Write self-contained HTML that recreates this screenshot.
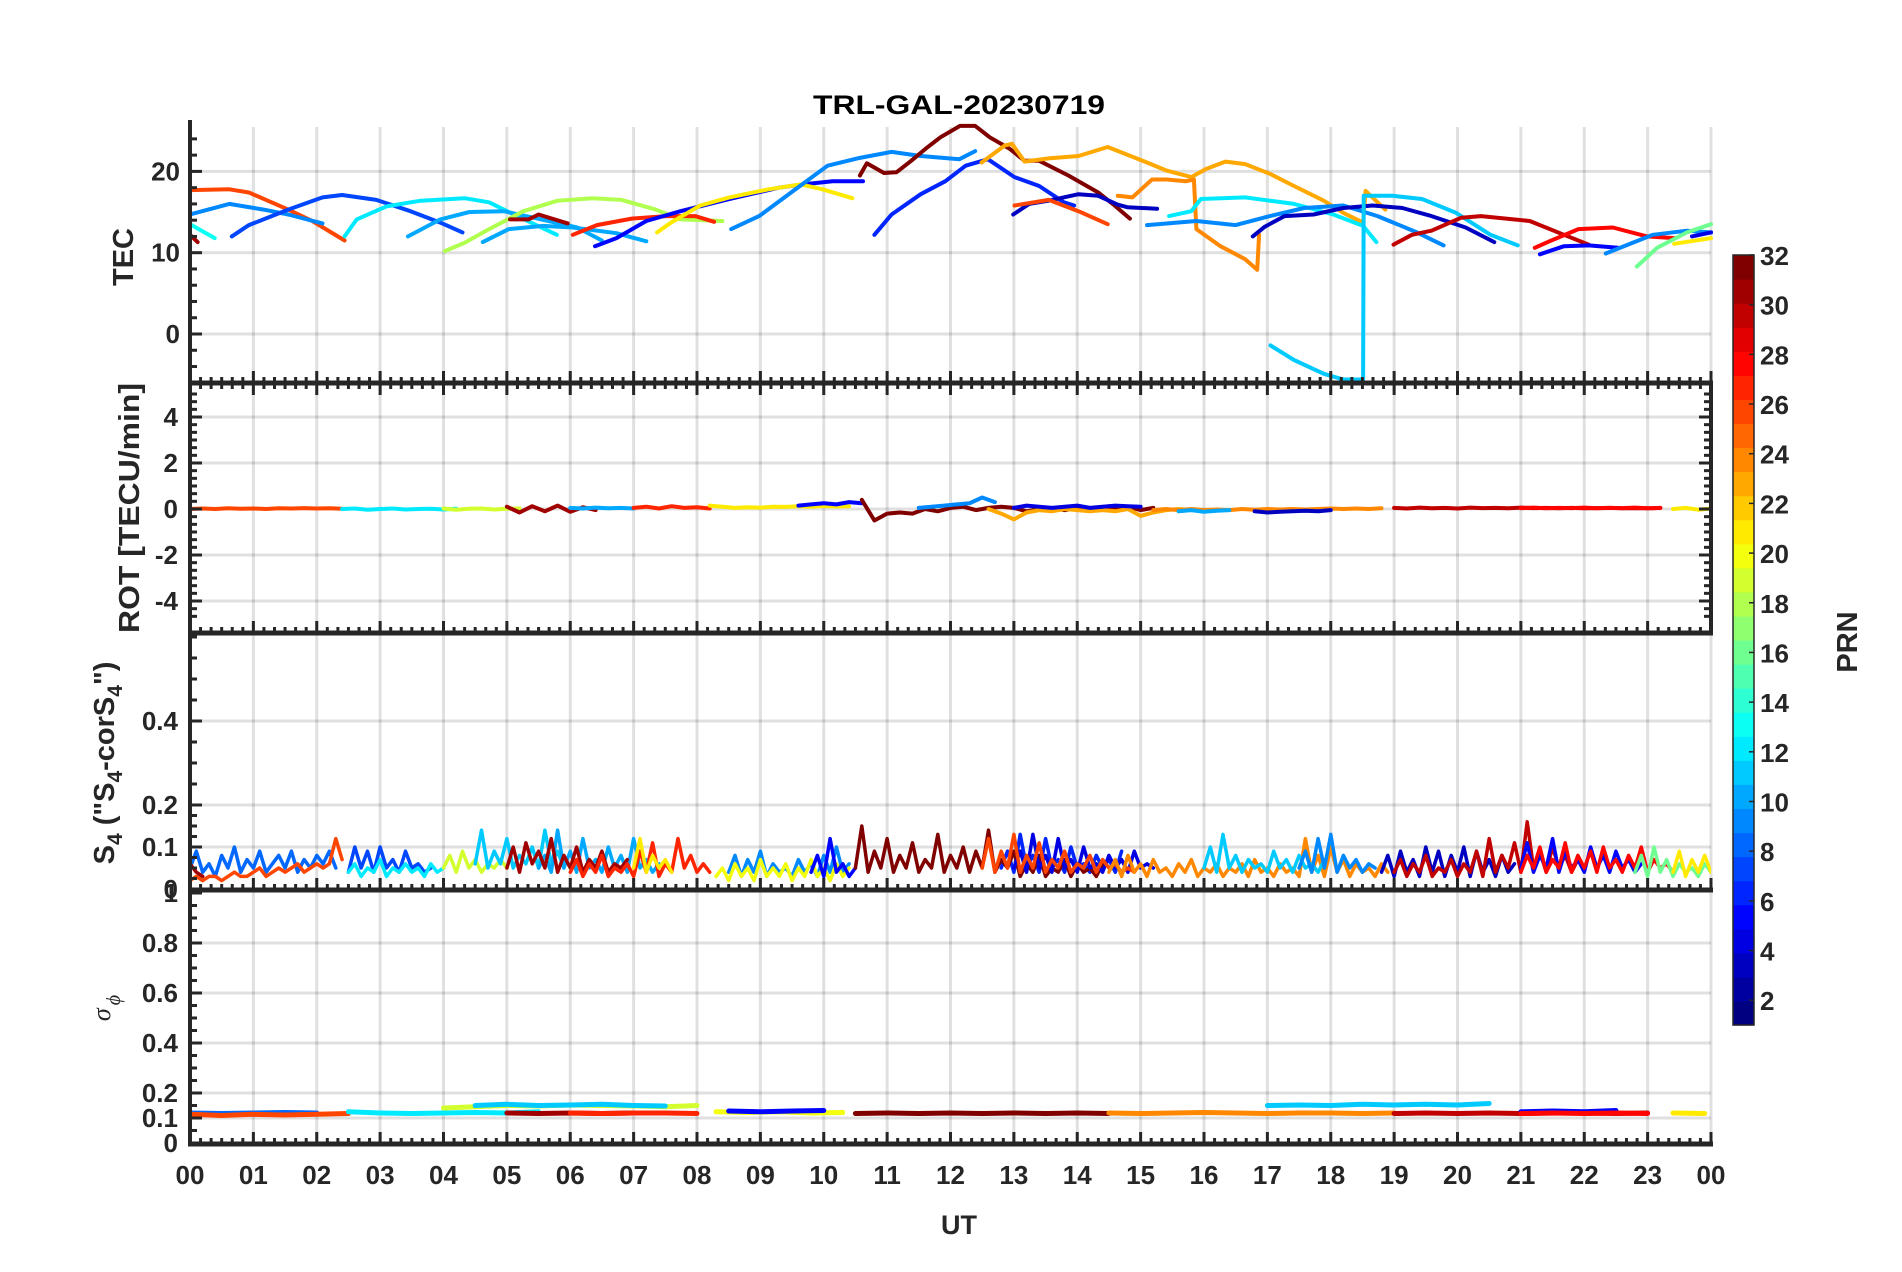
<!DOCTYPE html>
<html><head><meta charset="utf-8"><title>TRL-GAL-20230719</title>
<style>
html,body{margin:0;padding:0;background:#fff;}
svg{display:block;font-family:"Liberation Sans",Arial,sans-serif;}
.tk{font-weight:bold;font-size:26px;fill:#262626;}
</style></head>
<body>
<svg id="chart" xmlns="http://www.w3.org/2000/svg" width="1902" height="1272" viewBox="0 0 1902 1272">
<rect x="0" y="0" width="1902" height="1272" fill="#fff"/>
<defs>
<clipPath id="cTEC"><rect x="190" y="120" width="1525" height="264"/></clipPath>
<clipPath id="cROT"><rect x="190" y="383" width="1521" height="250"/></clipPath>
<clipPath id="cS4"><rect x="190" y="635" width="1521" height="255"/></clipPath>
<clipPath id="cSIG"><rect x="190" y="890" width="1521" height="254"/></clipPath>
</defs>
<g id="grid"></g>
<g id="tecG" clip-path="url(#cTEC)"></g>
<g id="rotG" clip-path="url(#cROT)"></g>
<g id="s4G" clip-path="url(#cS4)"></g>
<g id="sigG" clip-path="url(#cSIG)"></g>
<g id="axes"></g>
<g id="cbar"></g>
<text x="959" y="114" text-anchor="middle" font-weight="bold" font-size="27" fill="#000" textLength="292" lengthAdjust="spacingAndGlyphs">TRL-GAL-20230719</text>
<text transform="translate(133,257) rotate(-90)" text-anchor="middle" font-weight="bold" font-size="29" fill="#262626">TEC</text>
<text transform="translate(139,508) rotate(-90)" text-anchor="middle" font-weight="bold" font-size="29" fill="#262626" textLength="250" lengthAdjust="spacingAndGlyphs">ROT [TECU/min]</text>
<text transform="translate(114,763) rotate(-90)" text-anchor="middle" font-weight="bold" font-size="29" fill="#262626">S<tspan font-size="21" dy="8">4</tspan><tspan dy="-8"> ("S</tspan><tspan font-size="21" dy="8">4</tspan><tspan dy="-8">-corS</tspan><tspan font-size="21" dy="8">4</tspan><tspan dy="-8">")</tspan></text>
<text transform="translate(110,1008) rotate(-90)" text-anchor="middle" font-style="italic" font-family="Liberation Serif, serif" font-size="26" fill="#262626">σ<tspan font-size="20" dy="10" dx="3">ϕ</tspan></text>
<text x="959" y="1234" text-anchor="middle" font-weight="bold" font-size="27" fill="#262626">UT</text>
<text transform="translate(1857,642) rotate(-90)" text-anchor="middle" font-weight="bold" font-size="29" fill="#262626">PRN</text>
</svg>
<script>
// ---------- data ----------
var tecPrn = [26,9,13,31,7,12,10,18,10,31,27,5,21,9,32,6,3,23,24,26,12,9,3,11,30,28,5,9,16,21,4];
var tecHours = [
[0,0.62,0.93,1.55,1.93,2.44],
[0,0.62,1.16,1.55,2.09],
[0,0.39],
[0,0.12],
[0.66,0.93,1.55,2.09,2.4,2.94,3.48,3.95,4.3],
[2.44,2.63,3.1,3.64,4.33,4.72,5.11,5.79],
[3.44,3.95,4.41,4.95,5.42,6.11,6.5],
[4.02,4.33,4.72,5.26,5.8,6.35,6.81,7.35,7.74,8.4],
[4.62,5.03,5.57,6.04,6.73,7.2],
[5.05,5.34,5.5,5.96],
[6.04,6.42,6.97,7.51,7.97,8.27],
[6.39,6.73,7.2,7.74,8.51,9.29,9.67,10.14,10.62],
[7.37,7.59,8.05,8.51,9.13,9.64,9.98,10.45],
[8.54,8.98,9.52,10.06,10.53,11.07,11.53,12.14,12.39],
[10.57,10.68,10.95,11.15,11.38,11.61,11.84,12.15,12.39,12.62,12.93,13.17,13.4,13.86,14.33,14.56,14.83],
[10.8,11.07,11.53,11.92,12.24,12.59,13.01,13.4,13.79,13.95],
[12.99,13.24,13.55,14.02,14.33,14.64,14.79,15.26],
[12.49,12.86,12.97,13.17,13.55,14.02,14.48,15.1,15.41,15.8,16.03,16.34,16.65,17.04,17.42,17.89,18.2,18.51,18.55,18.86],
[14.64,14.87,15.18,15.41,15.72,15.84,15.88,16.26,16.65,16.84,16.87],
[13.01,13.55,14.02,14.48],
[15.45,15.8,15.95,16.65,17.42,18.04,18.51,18.72],
[15.1,15.88,16.5,17.04,17.58,18.2,18.74,19.36,19.78],
[16.77,16.96,17.27,17.73,18.2,18.66,19.13,19.59,20.13,20.58],
[17.05,17.42,17.89,18.2,18.51,18.52,18.97,19.44,19.98,20.52,20.95],
[18.99,19.28,19.59,20.06,20.37,21.14,21.68,22.07],
[21.22,21.45,21.91,22.45,22.99,23.42],
[21.3,21.68,22.07,22.53],
[22.34,22.69,23.08,23.62,24],
[22.83,23.15,23.62,24],
[23.42,24],
[23.7,24]
];
var tecValues = [
[17.7,17.8,17.4,15.3,13.9,11.5],
[14.7,16,15.3,14.7,13.6],
[13.5,11.8],
[12.2,11.3],
[12,13.4,15.3,16.8,17.1,16.5,15.1,13.7,12.5],
[12,14.1,15.7,16.4,16.7,16.2,14.7,12.2],
[12,14.1,15,15.1,14.3,13.1,11.5],
[10.2,11.2,12.9,15.1,16.4,16.7,16.5,15.3,14.1,13.9],
[11.3,12.9,13.3,13.1,12.4,11.4],
[14.1,14.1,14.7,13.6],
[12.2,13.4,14.2,14.5,14.5,13.8],
[10.8,11.8,13.9,15.1,16.6,18,18.4,18.8,18.8],
[12.5,13.7,15.8,16.8,17.8,18.4,17.8,16.7],
[12.9,14.5,17.6,20.7,21.6,22.4,21.9,21.5,22.5],
[19.5,21,19.8,19.9,21.3,22.8,24.2,25.6,25.6,24.2,22.8,21.3,21.3,19.5,17.4,16,14.2],
[12.2,14.7,17.2,18.8,20.7,21.5,19.3,18.2,16.2,15.8],
[14.7,16,16.4,17.2,17.0,15.9,15.6,15.4],
[21.1,23.2,23.4,21.2,21.6,21.9,23,21.1,20.1,19.3,20.3,21.2,20.9,19.7,18.2,16.4,14.9,13.7,17.6,15.3],
[17,16.8,19,19,18.8,19,12.9,10.8,9.2,7.9,12.2],
[15.8,16.5,15.1,13.5],
[14.5,15.1,16.6,16.8,16,14.7,13.3,11.3],
[13.4,13.9,13.4,14.5,15.5,15.8,14.5,12.5,10.9],
[12,13.2,14.5,14.7,15.5,15.8,15.5,14.5,13.1,11.3],
[-1.4,-3.2,-4.9,-5.6,-5.6,17,17,16.6,14.9,12.2,10.9],
[11,12.2,12.7,14.3,14.5,13.9,12.2,11],
[10.6,11.4,12.9,13.1,12,11.8],
[9.8,10.8,10.9,10.6],
[9.9,11,12.2,12.7,12.5],
[8.3,10.6,12.5,13.5],
[11.1,11.8],
[12,12.5]
];

// ROT: step 0.2 h
var rotStep = 0.2;
var rotPrn = [26,12,19,31,10,27,21,5,32,9,23,4,24,10,3,30,28,21];
var rotStart = [0,2.4,4.0,5.0,6.0,7.0,8.2,9.6,10.6,11.5,12.6,13.0,15.2,15.6,16.8,19.0,21.0,23.4];
var rotValues = [
[0,0.02,0,0.03,0.01,0.02,0,0.03,0.02,0.04,0.02,0.03,0.01],
[0,0.02,-0.03,0,0.02,-0.02,0,0.01,-0.02,0.01],
[0.02,-0.03,0.01,0.02,-0.02,0.01,0.02],
[0.1,-0.15,0.12,-0.1,0.15,-0.12,0.08,-0.05],
[0.05,0.02,0.06,0.03,0.05,0.02],
[0.05,0.1,0.02,0.12,0.05,0.08,0.02],
[0.15,0.1,0.05,0.08,0.06,0.1,0.09,0.12,0.1,0.13,0.11,0.12],
[0.15,0.2,0.25,0.2,0.3,0.25],
[0.4,-0.5,-0.2,-0.15,-0.2,0,-0.1,0.05,0.1,-0.05,0.05,0.1,0.05,-0.1,0,0.05,-0.05,0.05,0,0.05,0,0.1,-0.05,0.05],
[0.05,0.1,0.15,0.2,0.25,0.5,0.3],
[0,-0.2,-0.45,-0.15,-0.05,-0.1,0,-0.05,-0.1,-0.05,-0.1,0,-0.3,-0.15,-0.05,0,-0.05],
[0.05,0.15,0.1,0.05,0.1,0.15,0.05,0.1,0.15,0.12,0.1],
[-0.05,0,-0.05,0,-0.05,-0.02,-0.05,0,-0.03,0,-0.02,0,-0.02,0,0.02,0,0.02,0,0.03],
[-0.1,-0.05,-0.12,-0.08,-0.05],
[-0.1,-0.15,-0.12,-0.1,-0.08,-0.1,-0.05],
[0.05,0.02,0.06,0.03,0.05,0.02,0.06,0.04,0.05,0.03,0.06,0.04,0.05,0.03,0.05,0.03,0.04,0.05,0.03,0.04,0.03,0.05],
[0.04,0.06,0.03,0.05,0.04,0.06,0.03,0.05,0.04,0.06,0.03,0.05],
[0,0.05,-0.03,0.02]
];

// S4: step 0.1 h
var s4Step = 0.1;
var s4Prn = [8,7,12,19,11,10,31,27,21,9,20,5,6,32,4,26,24,11,9,3,30,5,28,16,21,26,31];
var s4Start = [0,2.5,2.5,4.0,4.5,5.5,5.0,6.0,7.0,8.5,8.3,9.8,12.8,10.5,13.0,12.5,14.5,16.0,17.5,18.8,19.0,21.0,21.0,22.8,23.4,0,0];
var s4Values = [
[0.05,0.09,0.04,0.06,0.03,0.08,0.05,0.10,0.04,0.07,0.05,0.09,0.04,0.06,0.08,0.05,0.09,0.04,0.07,0.05,0.08,0.06,0.09,0.05],
[0.04,0.10,0.05,0.09,0.04,0.10,0.05,0.07,0.04,0.09,0.05,0.06,0.04,0.05],
[0.04,0.06,0.03,0.05,0.04,0.07,0.03,0.05,0.04,0.06,0.04,0.05,0.03,0.06,0.04,0.05],
[0.05,0.08,0.04,0.09,0.05,0.07,0.04,0.06,0.05,0.07,0.05],
[0.06,0.14,0.05,0.09,0.06,0.12,0.05,0.08,0.06,0.10,0.05,0.14,0.06,0.09,0.05],
[0.05,0.08,0.04,0.14,0.05,0.09,0.04,0.12,0.05,0.07,0.04,0.10,0.05,0.08,0.04,0.12,0.05,0.07,0.04,0.06],
[0.05,0.10,0.04,0.11,0.06,0.09,0.05,0.12,0.04,0.08,0.05,0.10,0.04,0.07,0.05,0.09,0.04,0.06,0.05,0.07],
[0.04,0.07,0.03,0.06,0.04,0.08,0.03,0.05,0.04,0.06,0.03,0.09,0.04,0.11,0.03,0.06,0.04,0.12,0.05,0.08,0.04,0.06,0.04],
[0.05,0.12,0.04,0.08,0.05,0.07,0.04],
[0.04,0.08,0.03,0.07,0.04,0.09,0.03,0.06,0.04,0.05,0.03,0.07,0.04,0.06,0.03,0.08,0.04,0.10,0.04,0.06],
[0.03,0.05,0.02,0.06,0.03,0.05,0.02,0.07,0.03,0.05,0.03,0.06,0.02,0.05,0.03,0.07,0.03,0.05,0.02,0.06,0.03,0.05],
[0.04,0.08,0.03,0.12,0.04,0.06,0.03,0.05],
[0.05,0.09,0.04,0.13,0.05,0.08,0.04,0.12,0.05,0.07,0.04,0.10,0.05,0.06,0.04,0.08,0.05,0.07,0.04,0.09],
[0.05,0.15,0.04,0.09,0.05,0.12,0.04,0.08,0.05,0.11,0.04,0.07,0.05,0.13,0.04,0.08,0.05,0.10,0.04,0.09,0.05,0.14,0.04,0.07,0.05,0.09,0.03,0.06,0.04,0.08,0.03,0.05,0.04,0.07,0.03,0.06,0.04,0.05,0.03,0.06],
[0.05,0.09,0.04,0.13,0.05,0.08,0.04,0.12,0.05,0.07,0.04,0.10,0.05,0.06,0.04,0.08,0.05,0.07,0.04,0.09,0.05,0.06,0.05],
[0.05,0.12,0.04,0.09,0.05,0.13,0.04,0.08,0.05,0.11,0.04,0.07,0.05,0.09,0.04,0.06,0.05,0.08,0.04,0.07,0.05,0.06,0.04,0.05,0.04],
[0.04,0.07,0.03,0.08,0.04,0.06,0.03,0.07,0.04,0.05,0.03,0.06,0.04,0.07,0.03,0.05,0.04,0.06,0.03,0.05,0.04,0.06,0.03,0.07,0.04,0.05,0.03,0.06,0.04,0.05,0.03,0.12,0.04,0.08,0.03,0.10,0.04,0.07,0.03,0.06,0.04,0.05,0.03,0.06,0.04],
[0.05,0.10,0.04,0.13,0.05,0.08,0.04,0.07,0.05,0.06,0.04,0.09,0.05,0.07,0.04,0.08,0.05,0.06,0.04,0.07],
[0.05,0.09,0.04,0.12,0.05,0.13,0.04,0.08,0.05,0.07,0.04,0.06,0.05],
[0.04,0.08,0.03,0.09,0.04,0.07,0.03,0.10,0.04,0.09,0.03,0.08,0.04,0.10,0.03,0.09,0.04,0.07,0.03,0.08,0.04,0.06],
[0.04,0.07,0.03,0.06,0.04,0.08,0.03,0.05,0.04,0.07,0.03,0.06,0.04,0.09,0.03,0.12,0.04,0.08,0.05,0.11,0.04,0.16,0.05,0.09,0.04,0.10,0.05,0.08,0.04,0.07],
[0.05,0.11,0.04,0.08,0.05,0.12,0.04,0.09,0.05,0.07,0.04,0.10,0.05,0.08,0.04,0.09,0.05,0.07,0.04,0.06],
[0.04,0.08,0.05,0.10,0.04,0.07,0.05,0.11,0.04,0.08,0.05,0.09,0.04,0.10,0.05,0.07,0.04,0.08,0.05,0.10,0.04,0.07,0.05,0.06,0.04],
[0.04,0.08,0.03,0.10,0.04,0.07,0.03,0.06,0.04,0.05,0.03,0.06,0.04],
[0.04,0.09,0.03,0.07,0.04,0.08,0.04],
[0.02,0.03,0.02,0.03,0.03,0.02,0.03,0.04,0.03,0.03,0.04,0.05,0.03,0.04,0.05,0.04,0.05,0.06,0.04,0.05,0.06,0.05,0.06,0.12,0.07],
[0.06,0.04,0.03]
];

// sigma_phi: step 0.5 h
var sigStep = 0.5;
var sigPrn = [8,26,12,19,11,31,27,20,5,32,24,11,30,5,28,21];
var sigStart = [0,0,2.5,4.0,4.5,5,6,8.3,8.5,10.5,14.5,17,19,21,21,23.4];
var sigValues = [
[0.12,0.118,0.12,0.122,0.12],
[0.115,0.11,0.115,0.112,0.115,0.118],
[0.125,0.12,0.118,0.12,0.122,0.12,0.125],
[0.14,0.145,0.15,0.148,0.152,0.15,0.148,0.145,0.15],
[0.15,0.155,0.15,0.152,0.155,0.15,0.148],
[0.12,0.118,0.12,0.118,0.12],
[0.12,0.118,0.12,0.12,0.118],
[0.125,0.122,0.125,0.12,0.122],
[0.128,0.125,0.128,0.13],
[0.118,0.12,0.118,0.12,0.118,0.12,0.118,0.12,0.118],
[0.12,0.118,0.12,0.122,0.12,0.118,0.12,0.12,0.118,0.12],
[0.15,0.152,0.15,0.155,0.152,0.155,0.152,0.158],
[0.118,0.12,0.118,0.12,0.118,0.12,0.12,0.118,0.12],
[0.125,0.128,0.125,0.13],
[0.118,0.12,0.118,0.12,0.118],
[0.12,0.118]
];

var xTickLabels = ["00","01","02","03","04","05","06","07","08","09","10","11","12","13","14","15","16","17","18","19","20","21","22","23","00"];
var tecTicks = [0,10,20];
var rotTicks = [-4,-2,0,2,4];
var s4Ticks = [0,0.1,0.2,0.4];
var sigTicks = [0,0.1,0.2,0.4,0.6,0.8,1];
var cbTicks = [2,4,6,8,10,12,14,16,18,20,22,24,26,28,30,32];

// ---------- scales ----------
var X0 = 190, X1 = 1711;
function X(h){ return X0 + h*(X1-X0)/24; }
function yTEC(v){ return 334 - 8.13*v; }
function yROT(v){ return 509 - 23*v; }
function yS4(v){ return 889 - 420*v; }
function ySIG(v){ return 1143 - 250*v; }
function yCB(v){ return 255 + (32-v)*24.84; }

function jet(p){
  var t = (p-1)/31;
  function c(x){ return Math.max(0, Math.min(1, x)); }
  var r = c(1.5 - Math.abs(4*t-3)), g = c(1.5 - Math.abs(4*t-2)), b = c(1.5 - Math.abs(4*t-1));
  return 'rgb(' + Math.round(r*255) + ',' + Math.round(g*255) + ',' + Math.round(b*255) + ')';
}
var NS = 'http://www.w3.org/2000/svg';
function mk(tag, attrs, parent){
  var e = document.createElementNS(NS, tag);
  for (var k in attrs) e.setAttribute(k, attrs[k]);
  parent.appendChild(e);
  return e;
}
function g(id){ return document.getElementById(id); }

// ---------- grid ----------
var grid = g('grid');
var panels = [[127,383],[383,633],[635,890],[890,1144]];
for (var pi=0; pi<panels.length; pi++){
  for (var h=1; h<=24; h++){
    var gl = mk('line', {x1:X(h), x2:X(h), y1:panels[pi][0], y2:panels[pi][1], stroke:'#000', 'stroke-opacity':0.12, 'stroke-width':3}, grid);
    
    
  }
}
function hgrid(ticks, fy){
  for (var i=0;i<ticks.length;i++){
    var hl = mk('line', {x1:X0, x2:X1, y1:fy(ticks[i]), y2:fy(ticks[i]), stroke:'#000', 'stroke-opacity':0.12, 'stroke-width':3}, grid);
    
    
  }
}
hgrid(tecTicks, yTEC); hgrid(rotTicks, yROT); hgrid([0.1,0.2,0.4], yS4); hgrid([0.1,0.2,0.4,0.6,0.8], ySIG);

// ---------- series ----------
function poly(parent, pts, color, w, name){
  var p = mk('polyline', {points:pts.join(' '), fill:'none', stroke:color, 'stroke-width':w, 'stroke-linejoin':'round', 'stroke-linecap':'round'}, parent);
  
  
  return p;
}
var tecG = g('tecG');
for (var i=0;i<tecPrn.length;i++){
  var pts=[];
  for (var j=0;j<tecHours[i].length;j++) pts.push(X(tecHours[i][j]).toFixed(1)+','+yTEC(tecValues[i][j]).toFixed(1));
  poly(tecG, pts, jet(tecPrn[i]), 4, 'tec-track-prn-'+tecPrn[i]);
}
function stepSeries(parent, prns, starts, vals, step, fy, w, prefix){
  for (var i=0;i<prns.length;i++){
    var pts=[];
    for (var j=0;j<vals[i].length;j++) pts.push(X(starts[i]+j*step).toFixed(1)+','+fy(vals[i][j]).toFixed(1));
    poly(parent, pts, jet(prns[i]), w, prefix+prns[i]);
  }
}
stepSeries(g('rotG'), rotPrn, rotStart, rotValues, rotStep, yROT, 4, 'rot-track-prn-');
stepSeries(g('s4G'), s4Prn, s4Start, s4Values, s4Step, yS4, 3.5, 's4-track-prn-');
stepSeries(g('sigG'), sigPrn, sigStart, sigValues, sigStep, ySIG, 5, 'sigma-track-prn-');

// ---------- axes ----------
var ax = g('axes');
var AC = '#262626';
function line(x1,y1,x2,y2,w,name){
  var l = mk('line', {x1:x1,y1:y1,x2:x2,y2:y2,stroke:AC,'stroke-width':w}, ax);
  
  
}
function label(x,y,txt,anchor,name){
  var t = mk('text', {x:x, y:y, 'text-anchor':anchor, 'class':'tk'}, ax);
  t.textContent = txt;
  
  
}
line(X0,120,X0,1146,4,'y-axis-line');
line(X1,383,X1,633,4,'rot-right-axis-line');
[383,633,890,1144].forEach(function(y){ line(X0-2,y,X1+2,y,5,'x-axis-line'); });
function xticks(y, dir){
  for (var m=0;m<=144;m++){
    var h = m/6, len = (m%6===0)?12:6;
    line(X(h), y, X(h), y+dir*len, 3, 'x-tick');
  }
}
xticks(383,-1); xticks(383,1); xticks(633,-1); xticks(890,-1); xticks(1144,-1);
function yticks(lo, hi, minor, majors, fy, right){
  var n = Math.round((hi-lo)/minor);
  for (var k=0;k<=n;k++){
    var v = lo + k*minor, y = fy(v);
    var isMaj = majors.some(function(m){ return Math.abs(m-v)<1e-6; });
    var len = isMaj?12:7;
    if (!right) line(X0, y, X0+len, y, 3, 'y-tick');
    else line(X1, y, X1-len, y, 3, 'y-tick');
  }
}
yticks(-4,24,2,tecTicks,yTEC,false);
yticks(-5+1/3,5,1/3,rotTicks,yROT,false);
yticks(-5+1/3,5,1/3,rotTicks,yROT,true);
yticks(0,0.6,0.05,s4Ticks,yS4,false);
yticks(0,0.2,0.025,s4Ticks,yS4,false);
yticks(0,1,0.05,sigTicks,ySIG,false);
tecTicks.forEach(function(v){ label(180, yTEC(v)+9, String(v), 'end', 'tec-tick-label'); });
rotTicks.forEach(function(v){ label(178, yROT(v)+9, String(v), 'end', 'rot-tick-label'); });
s4Ticks.forEach(function(v){ label(178, yS4(v)+9, String(v), 'end', 's4-tick-label'); });
sigTicks.forEach(function(v){ label(178, ySIG(v)+9, String(v), 'end', 'sigma-tick-label'); });
for (var h=0; h<xTickLabels.length; h++) label(X(h), 1194-10, xTickLabels[h], 'middle', 'x-tick-label');

// ---------- colorbar ----------
var cb = g('cbar');
var cbTop = 255, cbBot = 1025, cbX = 1733, cbW = 21;
for (var k=0;k<32;k++){
  var bh = (cbBot-cbTop)/32;
  var r = mk('rect', {x:cbX, y:(cbTop + (31-k)*bh).toFixed(2), width:cbW, height:(bh+0.6).toFixed(2), fill:jet(k+1)}, cb);
  
  
}
var cbo = mk('rect', {x:cbX, y:cbTop, width:cbW, height:cbBot-cbTop, fill:'none', stroke:AC, 'stroke-width':1.5}, cb);


cbTicks.forEach(function(v){
  var y = yCB(v);
  var tl = mk('line', {x1:cbX+cbW-5, x2:cbX+cbW, y1:y, y2:y, stroke:AC, 'stroke-width':1.5}, cb);
  
  
  var t = mk('text', {x:cbX+cbW+6, y:y+10, 'class':'tk', 'font-size':'29'}, cb);
  t.textContent = String(v);
  
  
});
</script>
</body></html>
